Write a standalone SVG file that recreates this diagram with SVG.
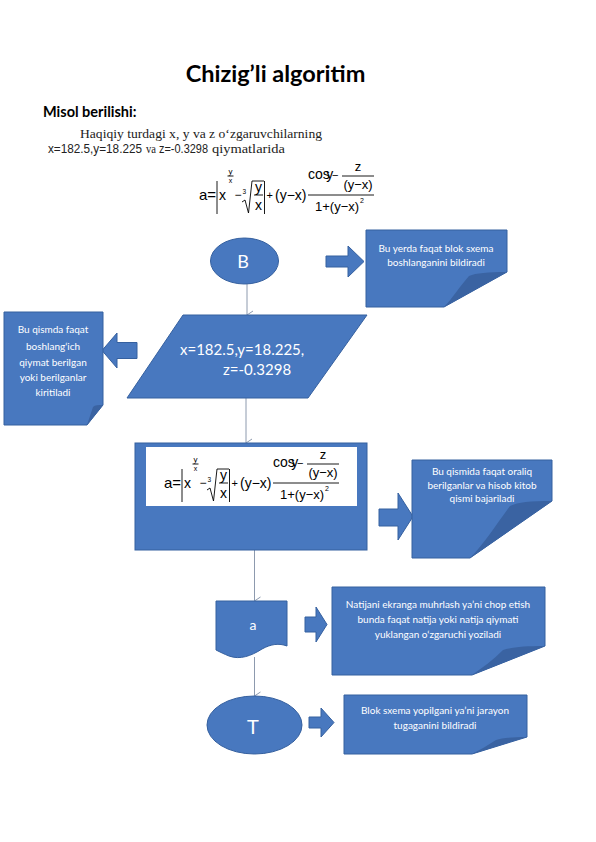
<svg xmlns="http://www.w3.org/2000/svg" xmlns:xlink="http://www.w3.org/1999/xlink" width="596" height="842" viewBox="0 0 596 842">
<style>
.shape{fill:#4878BF;stroke:#35609F;stroke-width:1}
.fold{fill:#3A63A2}
.lbl{font-family:Lato,"Liberation Sans",sans-serif;fill:#ffffff;text-anchor:middle}
.lbs{font-family:Lato,"Liberation Sans",sans-serif;fill:#ffffff;text-anchor:start}
.note{font-size:10px}
.conn{stroke:#8D9AAE;stroke-width:1;fill:none}
.fm{font-family:"Liberation Sans",Arial,sans-serif;fill:#000000}
.fl{stroke:#000000;stroke-width:0.9;fill:none}
.hs{font-family:"Liberation Sans",Arial,sans-serif;font-size:12px;fill:#222}
.hr{font-family:"Liberation Serif","Times New Roman",serif;font-size:13.5px;fill:#222}
</style>
<defs>
<marker id="v" viewBox="0 0 10 10" refX="5" refY="9" markerWidth="10" markerHeight="10" markerUnits="userSpaceOnUse" orient="auto-start-reverse">
<path d="M1,3 L5,9 L9,3" fill="none" stroke="#8D9AAE" stroke-width="1"/>
</marker>
<g id="formula">
<text class="fm" x="164" y="488" font-size="15">a=</text>
<line class="fl" x1="182" y1="469" x2="182" y2="502"/>
<text class="fm" x="184" y="488" font-size="14">x</text>
<text class="fm" x="195.5" y="462" font-size="8" text-anchor="middle">y</text>
<line class="fl" x1="192.5" y1="464" x2="198.5" y2="464" stroke-width="0.6"/>
<text class="fm" x="195.5" y="470.5" font-size="7" text-anchor="middle">x</text>
<text class="fm" x="199.5" y="487" font-size="12">−</text>
<text class="fm" x="207.5" y="482" font-size="6.5">3</text>
<path class="fl" d="M207,490 L210,488 L213.5,501 L217,469 L229,469" stroke-width="0.8"/>
<text class="fm" x="223.5" y="480" font-size="14" text-anchor="middle">y</text>
<line class="fl" x1="219" y1="483" x2="228" y2="483"/>
<text class="fm" x="223.5" y="498" font-size="14" text-anchor="middle">x</text>
<line class="fl" x1="229.5" y1="469" x2="229.5" y2="502"/>
<text class="fm" x="231.5" y="487" font-size="11">+</text>
<text class="fm" x="240" y="488" font-size="14">(y−x)</text>
<line class="fl" x1="273" y1="483" x2="339" y2="483"/>
<text class="fm" x="273" y="467" font-size="14">cos<tspan dx="-3.5">y</tspan></text>
<text class="fm" x="297" y="467" font-size="11">−</text>
<text class="fm" x="323" y="459" font-size="13" text-anchor="middle">z</text>
<line class="fl" x1="307" y1="464" x2="339" y2="464" stroke-width="0.8"/>
<text class="fm" x="323" y="477" font-size="13" text-anchor="middle">(y−x)</text>
<text class="fm" x="280" y="499" font-size="13">1+(y−x)</text>
<text class="fm" x="325" y="491" font-size="7">2</text>
</g>
</defs>
<rect x="0" y="0" width="596" height="842" fill="#ffffff"/>

<g id="header">
<text x="275.5" y="82" font-family="Lato,'Liberation Sans',sans-serif" font-weight="bold" font-size="23.5" text-anchor="middle" fill="#000">Chizig’li algoritim</text>
<text x="43" y="117" font-family="Lato,'Liberation Sans',sans-serif" font-weight="bold" font-size="14.5" fill="#000">Misol berilishi:</text>
<text class="hr" x="80" y="138" textLength="242" lengthAdjust="spacingAndGlyphs">Haqiqiy turdagi x, y va z o‘zgaruvchilarning</text>
<text class="hs" x="48" y="153" textLength="94" lengthAdjust="spacingAndGlyphs">x=182.5,y=18.225</text>
<text class="hr" x="146" y="153" textLength="10" lengthAdjust="spacingAndGlyphs">va</text>
<text class="hs" x="159" y="153" textLength="49" lengthAdjust="spacingAndGlyphs">z=-0.3298</text>
<text class="hr" x="212" y="153" textLength="73" lengthAdjust="spacingAndGlyphs">qiymatlarida</text>
<use xlink:href="#formula" href="#formula" transform="translate(35,-288)"/>
</g>

<g id="connectors">
<line class="conn" x1="247" y1="284" x2="247" y2="315" marker-end="url(#v)"/>
<line class="conn" x1="246" y1="398" x2="246" y2="443" marker-end="url(#v)"/>
<line class="conn" x1="254.5" y1="550" x2="254.5" y2="601" marker-end="url(#v)"/>
<line class="conn" x1="254.5" y1="657" x2="254.5" y2="696" marker-end="url(#v)"/>
</g>

<g id="start">
<ellipse class="shape" cx="244.5" cy="261" rx="34" ry="23"/>
<text class="lbl" x="243" y="268" font-size="18">B</text>
</g>

<g id="arrow1">
<polygon class="shape" points="326,256 348,256 348,246 364,261.5 348,277 348,267 326,267"/>
</g>
<g id="note1">
<polygon class="shape" points="366,230 507,230 507,272 444,307 366,307"/>
<path class="fold" d="M507,272 C488,272 476,273 469,276 C460,286 452,299 444,307 Z"/>
<text class="lbl note" x="436" y="251.5">Bu yerda faqat blok sxema</text>
<text class="lbl note" x="436" y="265.5">boshlanganini bildiradi</text>
</g>

<g id="input">
<polygon class="shape" points="183,315 367,315 308,398 127,398"/>
<text class="lbs" x="180" y="355" font-size="15">x=182.5,y=18.225,</text>
<text class="lbs" x="223" y="375" font-size="15">z=-0.3298</text>
</g>

<g id="arrow2">
<polygon class="shape" points="137,342.5 117,342.5 117,333 102,350.5 117,368 117,358.5 137,358.5"/>
</g>
<g id="note2">
<polygon class="shape" points="4,312 103,312 103,405 87,425 4,425"/>
<path class="fold" d="M103,405 C98,405 95,405 93,407 C91,413 89,419 87,425 Z"/>
<text class="lbl note" x="53" y="332.5">Bu qismda faqat</text>
<text class="lbl note" x="53" y="349.5">boshlang‘ich</text>
<text class="lbl note" x="53" y="365.5">qiymat berilgan</text>
<text class="lbl note" x="53" y="380.5">yoki berilganlar</text>
<text class="lbl note" x="53" y="395.5">kiritiladi</text>
</g>

<g id="process">
<rect class="shape" x="135" y="443" width="232" height="107"/>
<rect x="146" y="447" width="211" height="59" fill="#ffffff"/>
<use xlink:href="#formula" href="#formula"/>
</g>

<g id="arrow3">
<polygon class="shape" points="379,509 398,509 398,493 413,516.5 398,540 398,526 379,526"/>
</g>
<g id="note3">
<polygon class="shape" points="412,460 552,460 552,501 470,558 412,558"/>
<path class="fold" d="M552,501 C530,501 518,502 510,506 C498,522 484,544 470,558 Z"/>
<text class="lbl note" x="482" y="474.5">Bu qismida faqat oraliq</text>
<text class="lbl note" x="482" y="488.5">berilganlar va hisob kitob</text>
<text class="lbl note" x="482" y="501.5">qismi bajariladi</text>
</g>

<g id="output">
<path class="shape" d="M216,601 H287 V646 C279,643 271,644 262,649 C251,656 240,660 229,656 C224,654 220,652 216,650 Z"/>
<text class="lbl" x="253" y="630" font-size="14">a</text>
</g>

<g id="arrow4">
<polygon class="shape" points="305,617 316,617 316,607 327,624.5 316,642 316,632 305,632"/>
</g>
<g id="note4">
<polygon class="shape" points="332,587 545,587 545,646 472,675 332,675"/>
<path class="fold" d="M545,646 C525,646 512,647 503,650 C493,660 482,668 472,675 Z"/>
<text class="lbl note" x="438" y="607.5">Natijani ekranga muhrlash ya’ni chop etish</text>
<text class="lbl note" x="438" y="622.5">bunda faqat natija yoki natija qiymati</text>
<text class="lbl note" x="438" y="637.5">yuklangan o‘zgaruchi yoziladi</text>
</g>

<g id="end">
<ellipse class="shape" cx="254.5" cy="725" rx="47.5" ry="29"/>
<text class="lbl" x="253" y="734" font-size="20">T</text>
</g>

<g id="arrow5">
<polygon class="shape" points="309,717 321,717 321,708 334,722.5 321,737 321,728 309,728"/>
</g>
<g id="note5">
<polygon class="shape" points="344,695 527,695 527,737 472,754 344,754"/>
<path class="fold" d="M527,737 C512,737 502,738 496,740 C488,745 480,750 472,754 Z"/>
<text class="lbl note" x="435" y="713.5">Blok sxema yopilgani ya’ni jarayon</text>
<text class="lbl note" x="435" y="728.5">tugaganini bildiradi</text>
</g>
</svg>
